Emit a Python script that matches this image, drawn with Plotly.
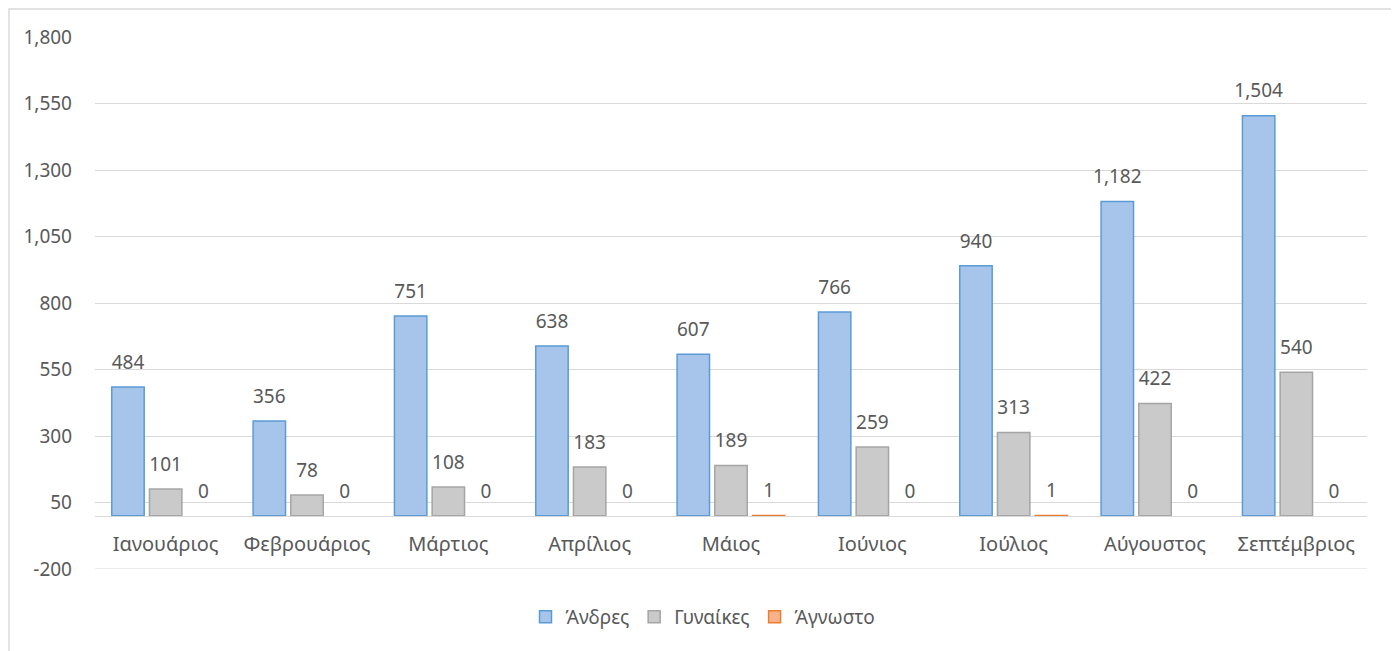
import plotly.graph_objects as go

months = ["Ιανουάριος", "Φεβρουάριος", "Μάρτιος", "Απρίλιος", "Μάιος",
          "Ιούνιος", "Ιούλιος", "Αύγουστος", "Σεπτέμβριος"]
men = [484, 356, 751, 638, 607, 766, 940, 1182, 1504]
women = [101, 78, 108, 183, 189, 259, 313, 422, 540]
unknown = [0, 0, 0, 0, 1, 0, 1, 0, 0]

y_tickvals = [-200, 50, 300, 550, 800, 1050, 1300, 1550, 1800]
y_ticktext = ["-200", "50", "300", "550", "800", "1,050", "1,300", "1,550", "1,800"]
y_range = [-200, 1800]

FONT = "Noto Sans"
TXT = "#595959"
GRID = "#d9d9d9"

fig = go.Figure()
series = [
    ("Άνδρες", men, "#a7c5eb", "#5b9bd5", "g1"),
    ("Γυναίκες", women, "#cacaca", "#a5a5a5", "g2"),
    ("Άγνωστο", unknown, "#f6b38b", "#ed7d31", "g3"),
]
for name, vals, fill, line, grp in series:
    fig.add_trace(go.Bar(
        name=name, x=months, y=[v if v else None for v in vals], offsetgroup=grp,
        marker=dict(color=fill, line=dict(color=line, width=1.5)),
        cliponaxis=False,
    ))
for name, vals, fill, line, grp in series:
    fig.add_trace(go.Scatter(
        x=months, y=vals, offsetgroup=grp, mode="markers+text",
        marker=dict(size=20, color="rgba(0,0,0,0)"),
        text=[f"{v:,}" for v in vals], textposition="top center",
        textfont=dict(family=FONT, size=19, color=TXT),
        showlegend=False, hoverinfo="skip", cliponaxis=False,
    ))

fig.update_layout(
    width=1391, height=643,
    paper_bgcolor="white", plot_bgcolor="white",
    margin=dict(l=87, r=32, t=29, b=82),
    barmode="group", bargap=0.2, bargroupgap=0.14,
    scattermode="group", scattergap=0.2,
    font=dict(family=FONT, color=TXT, size=20),
    showlegend=True,
    legend=dict(orientation="h", x=0.478, xanchor="center", y=-0.09, yanchor="middle",
                font=dict(family=FONT, size=19, color=TXT)),
    yaxis=dict(range=y_range, tickvals=y_tickvals, ticktext=y_ticktext,
               showgrid=True, gridcolor=GRID, gridwidth=1, zeroline=False,
               showline=False, ticks="", ticklabelstandoff=22,
               tickfont=dict(family=FONT, size=19, color=TXT)),
    xaxis=dict(anchor="free", position=(0 - y_range[0]) / (y_range[1] - y_range[0]),
               showline=True, linecolor=GRID,
               linewidth=1, showgrid=False, ticks="", ticklabelstandoff=10,
               tickfont=dict(family=FONT, size=20, color=TXT)),
    shapes=[
        dict(type="rect", xref="paper", yref="paper",
             x0=-0.0676, x1=1.0204, y0=-0.2, y1=1.0526,
             line=dict(color=GRID, width=1.5), fillcolor="rgba(0,0,0,0)",
             layer="below"),
        dict(type="line", xref="paper", yref="y", x0=0, x1=1,
             y0=y_tickvals[0], y1=y_tickvals[0],
             line=dict(color=GRID, width=1), layer="below"),
    ],
)

fig.write_html("out.html")
